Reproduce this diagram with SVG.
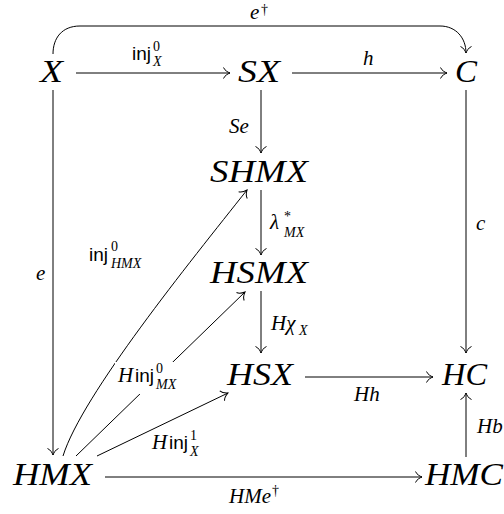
<svg xmlns="http://www.w3.org/2000/svg" width="504" height="514" viewBox="0 0 504 514">
<defs>
<style>
.n{font-family:'Liberation Serif','DejaVu Serif',serif;font-style:italic;font-size:32px;fill:#000}
.l{font-family:'Liberation Serif','DejaVu Serif',serif;font-style:italic;font-size:21px;fill:#000}
.s{font-family:'Liberation Serif','DejaVu Serif',serif;font-style:italic;font-size:14px;fill:#000}
.u{font-family:'Liberation Serif','DejaVu Serif',serif;font-style:normal;font-size:14px;fill:#000}
.sf{font-family:'Liberation Sans',Arial,sans-serif;font-style:normal;font-size:19px;fill:#000}
.e{fill:none;stroke:#000;stroke-width:1}
</style>
<marker id="arr" viewBox="-8 -7 10 14" refX="0" refY="0" markerWidth="10" markerHeight="14" markerUnits="userSpaceOnUse" orient="auto">
<path d="M-6.5,-5.5 C-5,-2 -1.5,-0.6 0,0 C-1.5,0.6 -5,2 -6.5,5.5" fill="none" stroke="#000" stroke-width="1"/>
</marker>
</defs>
<rect width="504" height="514" fill="#fff"/>
<g id="connectors">
<path class="e" d="M76,73 L230,73" marker-end="url(#arr)"/>
<path class="e" d="M292,73 L447,73" marker-end="url(#arr)"/>
<path class="e" d="M53,54 C53,38 62,26 80,26 L440,26 C456,26 466,38 466,53" marker-end="url(#arr)"/>
<path class="e" d="M261,90 L261,153" marker-end="url(#arr)"/>
<path class="e" d="M261,190 L261,255" marker-end="url(#arr)"/>
<path class="e" d="M261,291 L261,353" marker-end="url(#arr)"/>
<path class="e" d="M466,90 L466,353" marker-end="url(#arr)"/>
<path class="e" d="M53,90 L53,455" marker-end="url(#arr)"/>
<path class="e" d="M305,377 L433,377" marker-end="url(#arr)"/>
<path class="e" d="M466,457 L466,393" marker-end="url(#arr)"/>
<path class="e" d="M105,477 L422,477" marker-end="url(#arr)"/>
<path class="e" d="M63,456 C82,395 190,262 247,190" marker-end="url(#arr)"/>
<path class="e" d="M76,456 L245,292" marker-end="url(#arr)"/>
<path class="e" d="M97,456 L228,393" marker-end="url(#arr)"/>
<rect x="115" y="362" width="82" height="32" fill="#fff"/>
<text class="l" x="250" y="19">e</text><text class="u" x="261" y="14">†</text>
<text class="sf" x="132" y="60">inj</text><text class="u" x="153" y="51">0</text><text class="s" x="153" y="66">X</text>
<text class="l" x="363" y="65">h</text>
<text class="l" x="229" y="133">Se</text>
<text class="l" x="270" y="229">λ</text><text class="u" x="284" y="221">*</text><text class="s" x="284" y="237">MX</text>
<text class="l" x="271" y="330">Hχ</text><text class="s" x="299" y="335">X</text>
<text class="l" x="476" y="230">c</text>
<text class="l" x="36" y="280">e</text>
<text class="sf" x="89" y="261">inj</text><text class="u" x="111" y="251">0</text><text class="s" x="111" y="268">HMX</text>
<text class="l" x="118" y="382">H</text><text class="sf" x="135" y="382">inj</text><text class="u" x="156" y="373">0</text><text class="s" x="156" y="389">MX</text>
<text class="l" x="152" y="449">H</text><text class="sf" x="169" y="449">inj</text><text class="u" x="190" y="440">1</text><text class="s" x="190" y="456">X</text>
<text class="l" x="354" y="401">Hh</text>
<text class="l" x="477" y="433">Hb</text>
<text class="l" x="229" y="503">HMe</text><text class="u" x="272" y="495">†</text>
</g>
<g id="X"><text class="n" x="40" y="82" textLength="23" lengthAdjust="spacingAndGlyphs">X</text></g>
<g id="SX"><text class="n" x="238" y="82" textLength="42" lengthAdjust="spacingAndGlyphs">SX</text></g>
<g id="C"><text class="n" x="455" y="82" textLength="22" lengthAdjust="spacingAndGlyphs">C</text></g>
<g id="SHMX"><text class="n" x="210" y="182" textLength="98" lengthAdjust="spacingAndGlyphs">SHMX</text></g>
<g id="HSMX"><text class="n" x="210" y="283" textLength="98" lengthAdjust="spacingAndGlyphs">HSMX</text></g>
<g id="HSX"><text class="n" x="227" y="385" textLength="66" lengthAdjust="spacingAndGlyphs">HSX</text></g>
<g id="HC"><text class="n" x="442" y="385" textLength="45" lengthAdjust="spacingAndGlyphs">HC</text></g>
<g id="HMX"><text class="n" x="13" y="485" textLength="79" lengthAdjust="spacingAndGlyphs">HMX</text></g>
<g id="HMC"><text class="n" x="425" y="485" textLength="78" lengthAdjust="spacingAndGlyphs">HMC</text></g>
</svg>
